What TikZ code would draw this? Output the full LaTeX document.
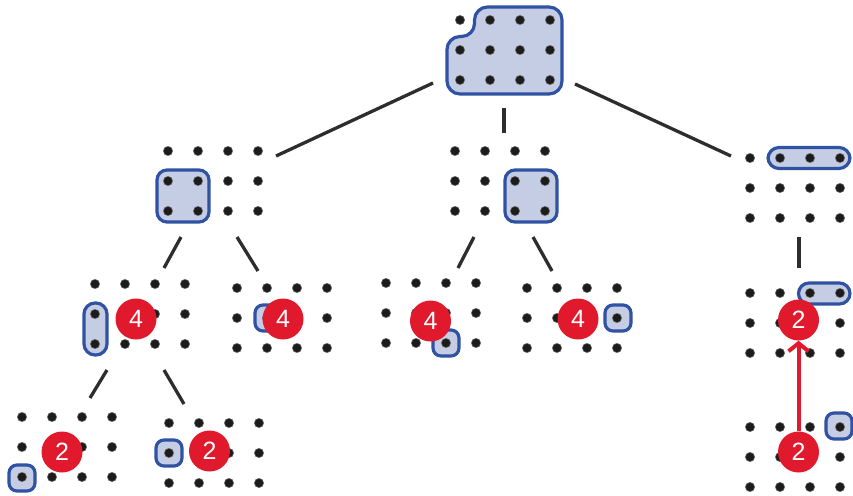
\documentclass[tikz,border=0pt]{standalone}
\usepackage{fontspec}
\newfontfamily\badgefont{Liberation Sans}
\usetikzlibrary{arrows.meta}
\definecolor{hlfill}{HTML}{C5CDE4}
\definecolor{hlblue}{HTML}{2F52A3}
\definecolor{badgered}{HTML}{E1192D}
\definecolor{linedark}{HTML}{2D2D2D}
\definecolor{dotcol}{HTML}{1C1C1C}
\tikzset{
  hl/.style={fill=hlfill, draw=hlblue, line width=3.2pt, rounded corners=#1},
  hl/.default=10pt,
  treeline/.style={draw=linedark, line width=3.3pt},
  badge/.style={circle, fill=badgered, text=white, minimum size=41pt, inner sep=0pt,
    font=\badgefont\fontsize{25}{25}\selectfont},
  redarrow/.style={draw=badgered, line width=4pt,
    -{Straight Barb[length=8pt,width=20pt,line width=4pt]}},
}
% a 4 x 3 grid of dots with its top-left dot at (#1,#2)
\newcommand\dotgrid[2]{%
  \foreach \i in {0,...,3}{\foreach \j in {0,...,2}{%
    \fill[dotcol!65] (#1+30*\i, #2+30*\j) circle[radius=5pt];
    \fill[dotcol] (#1+30*\i, #2+30*\j) circle[radius=4.2pt];}}}
\begin{document}
\begin{tikzpicture}[x=1pt, y=-1pt]
\useasboundingbox (0,0) rectangle (853,495);

% ---- highlighted regions ----
% root: eleven dots, top-left corner cut away
\draw[hl=13pt] (447,94) -- (447,36.5) -- (474.5,36.5) -- (474.5,7) -- (562,7) -- (562,94) -- cycle;
% second level
\draw[hl] (157,170) rectangle (209,222);
\draw[hl] (505,170) rectangle (557,222);
\draw[hl=11pt] (768,147.5) rectangle (850,168.5);
% third level
\draw[hl=11pt] (84,303) rectangle (107,355);
\draw[hl=8pt] (255,305) rectangle (281,331);
\draw[hl=8pt] (433,330) rectangle (459,356);
\draw[hl=8pt] (605,305) rectangle (631,331);
\draw[hl=10.5pt] (798.5,283) rectangle (850,304);
% fourth level
\draw[hl=8pt] (9,465) rectangle (35,491);
\draw[hl=8pt] (156,440) rectangle (182,466);
\draw[hl=8pt] (826,413) rectangle (852,439);

% ---- dot grids ----
\dotgrid{460}{20}
\dotgrid{168}{151}
\dotgrid{455}{151}
\dotgrid{750}{158}
\dotgrid{95}{284}
\dotgrid{237}{288}
\dotgrid{386}{283}
\dotgrid{527}{288}
\dotgrid{750}{293}
\dotgrid{22}{417}
\dotgrid{169}{423}
\dotgrid{750}{427}

% ---- tree connectors ----
\coordinate (rootL) at (433,83);   \coordinate (l2aT) at (276,156);
\coordinate (rootM) at (504,108);  \coordinate (l2bT) at (504,133);
\coordinate (rootR) at (575,84);   \coordinate (l2cT) at (731,156);
\coordinate (l2aL) at (181,237);   \coordinate (l3aT) at (164,268);
\coordinate (l2aR) at (237,237);   \coordinate (l3bT) at (258,271);
\coordinate (l2bL) at (474,237);   \coordinate (l3cT) at (458,268);
\coordinate (l2bR) at (533,237);   \coordinate (l3dT) at (552,271);
\coordinate (l2cB) at (799,237);   \coordinate (l3eT) at (799,268);
\coordinate (l3aL) at (107,370);   \coordinate (l4aT) at (90,398);
\coordinate (l3aR) at (164,370);   \coordinate (l4bT) at (184,404);
\draw[treeline] (rootL) -- (l2aT);
\draw[treeline] (rootM) -- (l2bT);
\draw[treeline] (rootR) -- (l2cT);
\draw[treeline] (l2aL) -- (l3aT);
\draw[treeline] (l2aR) -- (l3bT);
\draw[treeline] (l2bL) -- (l3cT);
\draw[treeline] (l2bR) -- (l3dT);
\draw[treeline] (l2cB) -- (l3eT);
\draw[treeline] (l3aL) -- (l4aT);
\draw[treeline] (l3aR) -- (l4bT);

% ---- count badges ----
\node[badge] (c3a) at (136,319) {4};
\node[badge] (c3b) at (283,319) {4};
\node[badge] (c3c) at (430.5,321) {4};
\node[badge] (c3d) at (578,319) {4};
\node[badge] (c3e) at (798.5,320) {2};
\node[badge] (c4a) at (62,452) {2};
\node[badge] (c4b) at (209.5,451) {2};
\node[badge] (c4e) at (798.5,452) {2};

\draw[redarrow] (c4e.north) -- (c3e.south);
\end{tikzpicture}
\end{document}
